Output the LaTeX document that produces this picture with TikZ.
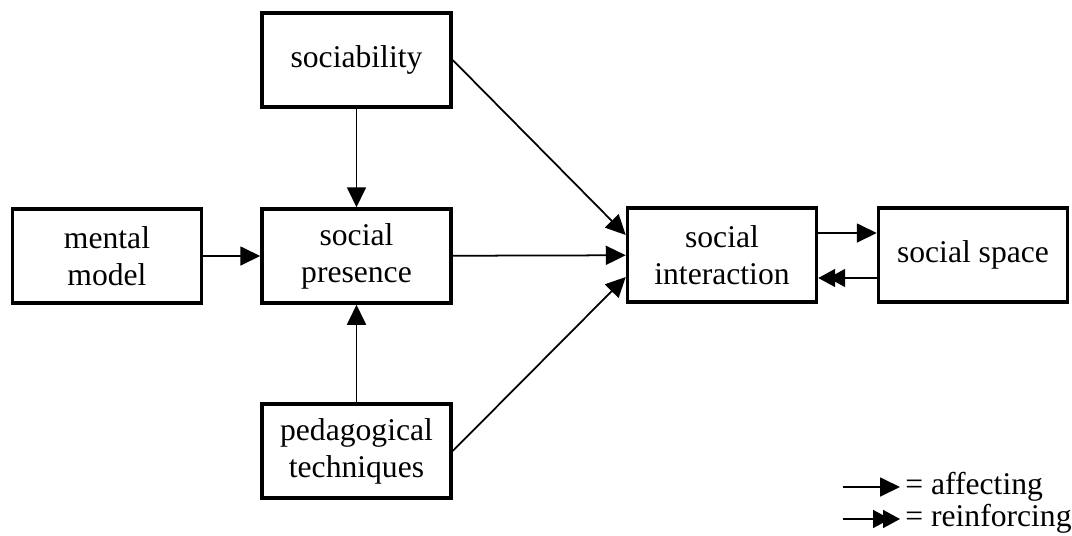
\documentclass[tikz,border=0pt]{standalone}
\usepackage{fontspec}
\setmainfont{Liberation Serif}
\usetikzlibrary{arrows.meta}

\tikzset{
	caja/.style={draw, line width=2pt, fill=white, align=center,
		minimum width=3.78cm, minimum height=1.88cm, inner sep=0pt,
		font=\fontsize{18}{21}\selectfont},
	afecta/.style={line width=1pt, -{Triangle[length=0.4cm,width=0.38cm]}},
	refuerza/.style={line width=1pt,
		-{Triangle[length=0.34cm,width=0.36cm,sep=-0.14cm]Triangle[length=0.34cm,width=0.36cm]}},
	leyenda/.style={anchor=west, inner sep=0pt, font=\fontsize{18}{21}\selectfont}
}

\begin{document}
\begin{tikzpicture}[x=0.02cm,y=-0.02cm]

	\useasboundingbox (0,0) rectangle (1072,535);

	% Cajas
	\node [caja] (sociab) at (356.5,60) {sociability};
	\node [caja] (mental) at (107,256) {mental\\model};
	\node [caja] (presencia) at (356.5,256) {social\\presence};
	\node [caja] (pedag) at (356.5,451) {pedagogical\\techniques};
	\node [caja] (interac) at (722,255) {social\\interaction};
	\node [caja] (espacio) at (973,255) {social space};

	% Flechas
	\draw [afecta] (mental) -- (presencia);
	\draw [afecta] (sociab) -- (presencia);
	\draw [afecta] (pedag) -- (presencia);
	\draw [afecta] (sociab.east) -- ([yshift=0.4cm]interac.west);
	\draw [afecta] (presencia) -- (interac);
	\draw [afecta] (pedag.east) -- ([yshift=-0.44cm]interac.west);
	\draw [afecta] ([yshift=0.44cm]interac.east) -- ([yshift=0.44cm]espacio.west);
	\draw [refuerza] ([yshift=-0.46cm]espacio.west) -- ([yshift=-0.46cm]interac.east);

	% Leyenda
	\coordinate (a1) at (843,487);
	\coordinate (a2) at (900,487);
	\coordinate (r1) at (843,519);
	\coordinate (r2) at (900,519);
	\draw [afecta] (a1) -- (a2);
	\draw [refuerza] (r1) -- (r2);
	\node [leyenda] (afect) at (905,487) {= affecting};
	\node [leyenda] (refz) at (905,519) {= reinforcing};
\end{tikzpicture}
\end{document}
